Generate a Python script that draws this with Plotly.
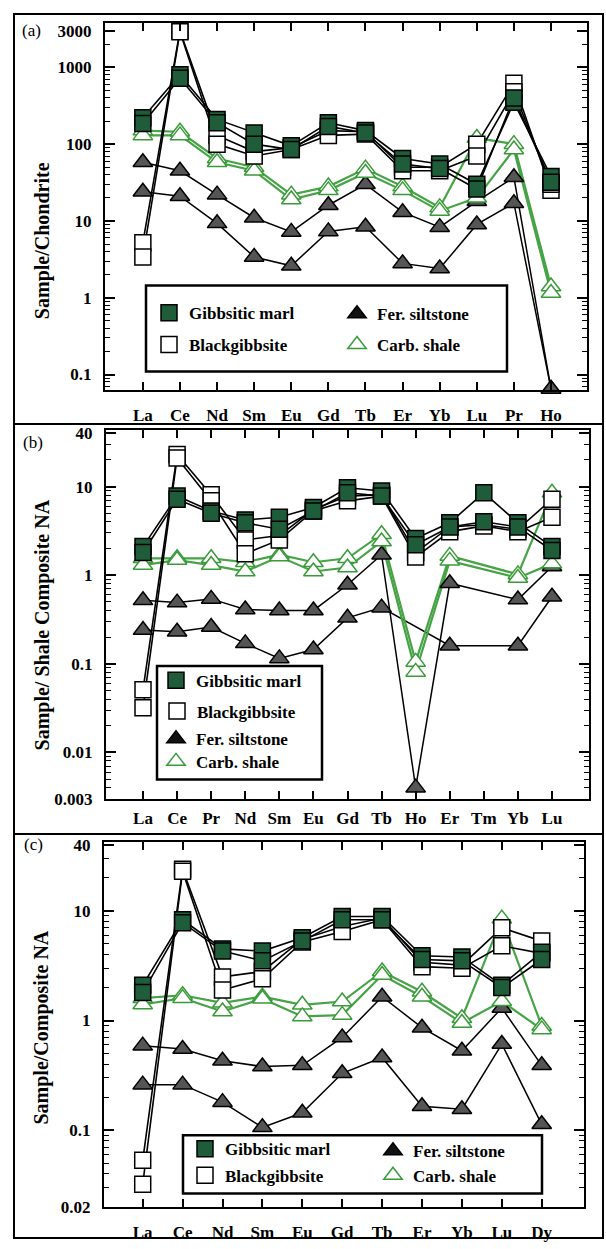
import plotly.graph_objects as go

W, H = 606, 1249

# ---------------- Panel (a): Sample / Chondrite ----------------
cats_a = ["La", "Ce", "Nd", "Sm", "Eu", "Gd", "Tb", "Er", "Yb", "Lu", "Pr", "Ho"]
gm1_a = [220, 800, 210, 140, 95, 190, 150, 65, 55, 30, 350, 38]
gm2_a = [185, 720, 190, 100, 85, 170, 140, 55, 48, 26, 400, 32]
bg1_a = [5.2, 3000, 130, 80, 90, 150, 145, 50, 50, 100, 620, 25]
bg2_a = [3.4, 2900, 100, 70, 85, 130, 135, 45, 45, 70, 480, 30]
fs1_a = [58, 45, 22, 11, 7.2, 16, 30, 13, 8.3, 18, 37, 0.065]
fs2_a = [24, 21, 9.3, 3.4, 2.6, 7.3, 8.4, 2.8, 2.4, 9.0, 17, 0.065]
cs1_a = [150, 145, 65, 50, 22, 28, 48, 28, 15, 120, 100, 1.4]
cs2_a = [130, 130, 58, 45, 19, 25, 42, 25, 13.5, 20, 85, 1.15]
yt_a = [0.1, 1, 10, 100, 1000, 3000]
ytxt_a = ["0.1", "1", "10", "100", "1000", "3000"]

# ---------------- Panel (b): Sample / Shale Composite NA ----------------
cats_b = ["La", "Ce", "Pr", "Nd", "Sm", "Eu", "Gd", "Tb", "Ho", "Er", "Tm", "Yb", "Lu"]
gm1_b = [2.1, 7.8, 5.3, 4.2, 4.5, 5.8, 9.7, 8.9, 2.6, 3.9, 8.5, 3.9, 2.1]
gm2_b = [1.8, 7.2, 5.0, 3.9, 3.3, 5.3, 8.5, 7.8, 2.2, 3.5, 4.0, 3.5, 1.9]
bg1_b = [0.051, 23, 8.1, 2.5, 2.8, 5.5, 7.8, 8.1, 1.8, 3.5, 3.7, 3.3, 7.2]
bg2_b = [0.032, 21, 6.9, 1.75, 2.5, 5.3, 6.9, 7.8, 1.6, 3.1, 3.6, 3.1, 4.5]
fs1_b = [0.52, 0.49, 0.54, 0.41, 0.40, 0.40, 0.78, 1.7, 0.004, 0.81, None, 0.53, 1.25]
fs2_b = [0.24, 0.23, 0.26, 0.17, 0.115, 0.145, 0.33, 0.43, None, 0.16, None, 0.16, 0.57]
cs1_b = [1.55, 1.55, 1.55, 1.4, 1.7, 1.4, 1.55, 2.9, 0.105, 1.65, None, 1.02, 8.5]
cs2_b = [1.3, 1.48, 1.3, 1.1, 1.62, 1.1, 1.22, 2.4, 0.081, 1.45, None, 0.93, 1.35]
yt_b = [0.003, 0.01, 0.1, 1, 10, 40]
ytxt_b = ["0.003", "0.01", "0.1", "1", "10", "40"]

# ---------------- Panel (c): Sample / Composite NA ----------------
cats_c = ["La", "Ce", "Nd", "Sm", "Eu", "Gd", "Tb", "Er", "Yb", "Lu", "Dy"]
gm1_c = [2.1, 8.3, 4.5, 4.3, 5.7, 8.9, 8.9, 3.9, 3.8, 2.1, 4.2]
gm2_c = [1.8, 7.8, 4.3, 3.5, 5.3, 8.3, 8.3, 3.6, 3.5, 2.0, 3.6]
bg1_c = [0.053, 24, 2.5, 2.8, 5.5, 7.2, 8.6, 3.4, 3.2, 7.0, 5.3]
bg2_c = [0.032, 23, 1.9, 2.4, 5.2, 6.5, 8.3, 3.1, 3.0, 4.8, 4.1]
fs1_c = [0.59, 0.55, 0.43, 0.38, 0.39, 0.70, 1.65, 0.86, 0.53, 1.3, 0.39]
fs2_c = [0.26, 0.26, 0.18, 0.106, 0.144, 0.33, 0.46, 0.165, 0.155, 0.61, 0.113]
cs1_c = [1.6, 1.7, 1.45, 1.65, 1.39, 1.49, 2.8, 1.83, 1.05, 8.5, 0.89]
cs2_c = [1.4, 1.6, 1.21, 1.58, 1.09, 1.12, 2.6, 1.65, 0.95, 1.5, 0.83]
yt_c = [0.02, 0.1, 1, 10, 40]
ytxt_c = ["0.02", "0.1", "1", "10", "40"]

series_names = {"gm": "Gibbsitic marl", "bg": "Blackgibbsite",
                "fs": "Fer. siltstone", "cs": "Carb. shale"}
y_titles = ["Sample/Chondrite", "Sample/ Shale Composite NA", "Sample/Composite NA"]
panel_tags = ["(a)", "(b)", "(c)"]

# ---------------- styling ----------------
SERIF = "Liberation Serif, Times New Roman, serif"
GREEN_LINE = "#46a346"
styles = {
    "gm": dict(symbol="square", fill="#1f5c39", edge="black", line="black", lw=1.6, size=16),
    "bg": dict(symbol="square", fill="white", edge="black", line="black", lw=1.6, size=16),
    "fs": dict(symbol="triangle-up", fill="#555555", edge="black", line="black", lw=1.5, size=17),
    "cs": dict(symbol="triangle-up", fill="white", edge="#3a9a3a", line=GREEN_LINE, lw=2.2, size=17),
}
legend_fill = {"gm": "#1f5c39", "bg": "white", "fs": "#111111", "cs": "white"}

panels = [
    dict(cats=cats_a,
         series=[("fs", fs1_a), ("fs", fs2_a), ("cs", cs1_a), ("cs", cs2_a),
                 ("bg", bg1_a), ("bg", bg2_a), ("gm", gm1_a), ("gm", gm2_a)],
         yt=yt_a, ytxt=ytxt_a,
         plot=(105, 17, 587, 389), xr=[-1.02, 11.97], yr=[-1.206, 3.58],
         frame=(14, 8, 603, 423),
         legbox=(146, 283, 507, 370),
         leg={"gm": (169, 311), "bg": (169, 343), "fs": (357, 312), "cs": (357, 343)},
         xstand=8, tag=(31, 25), title=(42, 238)),
    dict(cats=cats_b,
         series=[("fs", fs1_b), ("fs", fs2_b), ("cs", cs1_b), ("cs", cs2_b),
                 ("bg", bg1_b), ("bg", bg2_b), ("gm", gm1_b), ("gm", gm2_b)],
         yt=yt_b, ytxt=ytxt_b,
         plot=(106, 429, 589, 803), xr=[-1.086, 13.086], yr=[-2.53, 1.64],
         frame=(14, 423, 603, 838),
         legbox=(157, 668, 322, 783),
         leg={"gm": (176, 683), "bg": (177, 714), "fs": (176, 742), "cs": (176, 765)},
         xstand=2, tag=(33, 442), title=(42, 627)),
    dict(cats=cats_c,
         series=[("fs", fs1_c), ("fs", fs2_c), ("cs", cs1_c), ("cs", cs2_c),
                 ("bg", bg1_c), ("bg", bg2_c), ("gm", gm1_c), ("gm", gm2_c)],
         yt=yt_c, ytxt=ytxt_c,
         plot=(104, 846, 584, 1216), xr=[-0.97, 11.06], yr=[-1.705, 1.63],
         frame=(14, 838, 603, 1247),
         legbox=(183, 1143, 542, 1202),
         leg={"gm": (205, 1157), "bg": (205, 1184), "fs": (393, 1159), "cs": (393, 1184)},
         xstand=8, tag=(33, 849), title=(42, 1034)),
]


def fx(p):
    return p / W


def fy(p):
    return 1 - p / H


minor_vals = [m * 10 ** k for k in range(-3, 4) for m in range(2, 10)]

fig = go.Figure()
shapes, annotations = [], []
legend_layouts = {}
leg_counter = 0

for pi, P in enumerate(panels):
    xa = "x" if pi == 0 else f"x{pi + 1}"
    ya = "y" if pi == 0 else f"y{pi + 1}"
    # connecting lines
    for key, vals in P["series"]:
        st = styles[key]
        fig.add_trace(go.Scatter(
            x=P["cats"], y=vals, mode="lines", connectgaps=True,
            line=dict(color=st["line"], width=st["lw"]),
            showlegend=False, hoverinfo="skip", xaxis=xa, yaxis=ya))
    # data markers
    for key, vals in P["series"]:
        st = styles[key]
        fig.add_trace(go.Scatter(
            x=P["cats"], y=vals, mode="markers", name=series_names[key],
            marker=dict(symbol=st["symbol"], size=st["size"], color=st["fill"],
                        line=dict(color=st["edge"], width=1.5)),
            cliponaxis=False, showlegend=False, xaxis=xa, yaxis=ya))
    # legend entries (one small legend per entry, placed inside the drawn box)
    for key in ["gm", "bg", "fs", "cs"]:
        st = styles[key]
        leg_counter += 1
        lid = "legend" if leg_counter == 1 else f"legend{leg_counter}"
        cx, cy = P["leg"][key]
        legend_layouts[lid] = dict(
            x=fx(cx - 20), y=fy(cy), xanchor="left", yanchor="middle",
            bgcolor="rgba(0,0,0,0)", borderwidth=0,
            font=dict(family=SERIF, size=17, color="black", weight="bold"),
            itemclick=False, itemdoubleclick=False)
        fig.add_trace(go.Scatter(
            x=[None], y=[None], mode="markers", name=series_names[key],
            marker=dict(symbol=st["symbol"], size=16, color=legend_fill[key],
                        line=dict(color=st["edge"], width=1.5)),
            showlegend=True, legend=lid, xaxis=xa, yaxis=ya))

    x0, y0, x1, y1 = P["plot"]
    fig.layout[("xaxis" if pi == 0 else f"xaxis{pi + 1}")] = dict(
        type="category", domain=[fx(x0), fx(x1)], range=P["xr"], anchor=ya,
        showline=True, linewidth=2, linecolor="black", mirror="allticks",
        ticks="inside", ticklen=8, tickwidth=1.5, tickcolor="black",
        showgrid=False, zeroline=False, ticklabelstandoff=P["xstand"],
        tickfont=dict(family=SERIF, size=17, color="black", weight="bold"))
    fig.layout[("yaxis" if pi == 0 else f"yaxis{pi + 1}")] = dict(
        type="log", domain=[fy(y1), fy(y0)], range=P["yr"], anchor=xa,
        tickmode="array", tickvals=P["yt"], ticktext=P["ytxt"],
        showline=True, linewidth=2, linecolor="black", mirror="allticks",
        ticks="inside", ticklen=10, tickwidth=1.5, tickcolor="black",
        minor=dict(tickmode="array", tickvals=minor_vals, ticks="inside",
                   ticklen=5, tickwidth=1, tickcolor="black", showgrid=False),
        showgrid=False, zeroline=False, ticklabelstandoff=8,
        tickfont=dict(family=SERIF, size=17, color="black", weight="bold"))

    fx0, fy0, fx1, fy1 = P["frame"]
    shapes.append(dict(type="rect", xref="paper", yref="paper",
                       x0=fx(fx0), x1=fx(fx1), y0=fy(fy1), y1=fy(fy0),
                       line=dict(color="black", width=2), layer="below"))
    lx0, ly0, lx1, ly1 = P["legbox"]
    shapes.append(dict(type="rect", xref="paper", yref="paper",
                       x0=fx(lx0), x1=fx(lx1), y0=fy(ly1), y1=fy(ly0),
                       line=dict(color="black", width=2.5), layer="above"))
    tx, ty = P["tag"]
    annotations.append(dict(text=panel_tags[pi], xref="paper", yref="paper",
                            x=fx(tx), y=fy(ty), showarrow=False,
                            xanchor="center", yanchor="middle",
                            font=dict(family=SERIF, size=17, color="black")))
    ttx, tty = P["title"]
    annotations.append(dict(text=y_titles[pi], xref="paper", yref="paper",
                            x=fx(ttx), y=fy(tty), showarrow=False, textangle=-90,
                            xanchor="center", yanchor="middle",
                            font=dict(family=SERIF, size=20, color="black", weight="bold")))

fig.update_layout(
    width=W, height=H, autosize=False,
    margin=dict(l=0, r=0, t=0, b=0),
    paper_bgcolor="white", plot_bgcolor="white",
    shapes=shapes, annotations=annotations,
    **legend_layouts,
)

fig.write_html("out.html",
               config={"displayModeBar": False},
               post_script="document.body.style.margin='0px';"
                           "document.body.style.overflow='hidden';")
